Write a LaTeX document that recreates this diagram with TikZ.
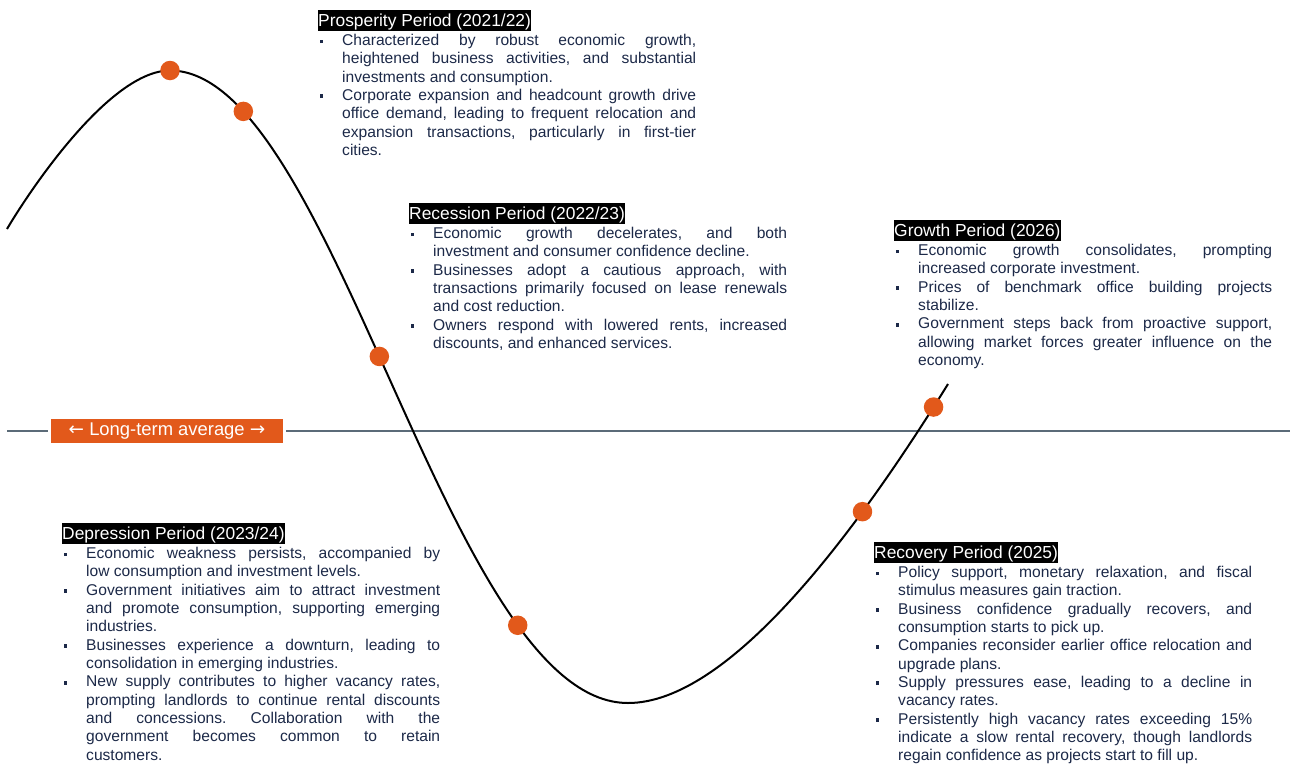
\documentclass[tikz,border=0pt]{standalone}
\usepackage{fontspec}
\setmainfont{Liberation Sans}
\newfontfamily\arrowfont{DejaVu Sans}

\definecolor{navytext}{HTML}{1C2948}
\definecolor{accent}{HTML}{E2591B}
\definecolor{avgline}{HTML}{5B6B78}

% body text: Arial-metric sans, forced justified lines
\newcommand{\bodyfont}{\fontsize{15.6pt}{18.33pt}\selectfont\frenchspacing
  \pretolerance=10000 \tolerance=10000 \hbadness=10000 \parskip=0pt \parindent=0pt}
\newcommand{\titlefont}{\fontsize{17.4pt}{20pt}\selectfont}
\newcommand{\labelfont}{\fontsize{18.4pt}{20pt}\selectfont}
% one bullet item with hanging indent, closed by its own \par
\newcommand{\blt}[1]{\noindent\hangindent=24.5pt\hangafter=1%
  \makebox[24.5pt][l]{\hspace{2pt}\rule[2.3pt]{3.7pt}{3.7pt}}\ignorespaces#1\par}

\begin{document}
\begin{tikzpicture}[x=1pt,y=-1pt,
  titlebox/.style={fill=black, text=white, font=\titlefont, anchor=north west,
    inner xsep=0.5pt, inner ysep=0.5pt, text height=15.8pt, text depth=3.7pt},
  bodytext/.style={text=navytext, font=\bodyfont, text width=378.5pt, align=justify,
    inner sep=0pt, anchor=base west},
  curve/.style={line width=2pt, black},
  dot/.style={circle, fill=accent, draw=none, inner sep=0pt, minimum size=19.5pt},
  avgbox/.style={fill=accent, text=white, font=\labelfont, inner sep=0pt,
    minimum width=232pt, minimum height=24pt}]
\useasboundingbox (0,0) rectangle (1292,763);

% long-term average line
\node[avgbox] (avg) at (167,431) {{\arrowfont ←} Long-term average {\arrowfont →}};
\coordinate (avgL) at (7,431);
\coordinate (avgR) at (1290,431);
\draw[avgline, line width=1.3pt] (avgL) -- ([xshift=-3pt]avg.west);
\draw[avgline, line width=1.3pt] ([xshift=3pt]avg.east) -- (avgR);

% the cycle curve with its phase markers
\coordinate (cstart) at (7,229);
\coordinate (cpeak) at (170,70.5);
\coordinate (ctrough) at (628,703);
\coordinate (cend) at (948,384);
\draw[curve] (cstart) .. controls (30,190) and (110,70.5) .. (cpeak)
  node[dot, pos=1] (m1) {}
  .. controls (335,70.5) and (447,703) .. (ctrough)
  node[dot, pos=0.155] (m2) {}
  node[dot, pos=0.468] (m3) {}
  node[dot, pos=0.781] (m4) {}
  .. controls (728,703) and (853.3,537) .. (cend)
  node[dot, pos=0.72] (m5) {}
  node[dot, pos=0.95] (m6) {};

% Prosperity
\node[titlebox] (tpro) at (317.5,10) {Prosperity Period (2021/22)};
\node[bodytext] (bpro) at ([yshift=-35.5pt]tpro.north west) {%
\blt{Characterized by robust economic growth,\linebreak heightened business activities, and substantial\linebreak investments and consumption.}%
\blt{Corporate expansion and headcount growth drive\linebreak office demand, leading to frequent relocation and\linebreak expansion transactions, particularly in first-tier\linebreak cities.}};

% Recession
\node[titlebox] (trec) at (408.5,203) {Recession Period (2022/23)};
\node[bodytext] (brec) at ([yshift=-35.5pt]trec.north west) {%
\blt{Economic growth decelerates, and both\linebreak investment and consumer confidence decline.}%
\blt{Businesses adopt a cautious approach, with\linebreak transactions primarily focused on lease renewals\linebreak and cost reduction.}%
\blt{Owners respond with lowered rents, increased\linebreak discounts, and enhanced services.}};

% Growth
\node[titlebox] (tgro) at (893.5,220) {Growth Period (2026)};
\node[bodytext] (bgro) at ([yshift=-35.5pt]tgro.north west) {%
\blt{Economic growth consolidates, prompting\linebreak increased corporate investment.}%
\blt{Prices of benchmark office building projects\linebreak stabilize.}%
\blt{Government steps back from proactive support,\linebreak allowing market forces greater influence on the\linebreak economy.}};

% Depression
\node[titlebox] (tdep) at (61.5,523) {Depression Period (2023/24)};
\node[bodytext] (bdep) at ([yshift=-35.5pt]tdep.north west) {%
\blt{Economic weakness persists, accompanied by\linebreak low consumption and investment levels.}%
\blt{Government initiatives aim to attract investment\linebreak and promote consumption, supporting emerging\linebreak industries.}%
\blt{Businesses experience a downturn, leading to\linebreak consolidation in emerging industries.}%
\blt{New supply contributes to higher vacancy rates,\linebreak prompting landlords to continue rental discounts\linebreak and concessions. Collaboration with the\linebreak government becomes common to retain\linebreak customers.}};

% Recovery
\node[titlebox] (trcv) at (873.5,542) {Recovery Period (2025)};
\node[bodytext] (brcv) at ([yshift=-35.5pt]trcv.north west) {%
\blt{Policy support, monetary relaxation, and fiscal\linebreak stimulus measures gain traction.}%
\blt{Business confidence gradually recovers, and\linebreak consumption starts to pick up.}%
\blt{Companies reconsider earlier office relocation and\linebreak upgrade plans.}%
\blt{Supply pressures ease, leading to a decline in\linebreak vacancy rates.}%
\blt{Persistently high vacancy rates exceeding 15\%\linebreak indicate a slow rental recovery, though landlords\linebreak regain confidence as projects start to fill up.}};
\end{tikzpicture}
\end{document}
